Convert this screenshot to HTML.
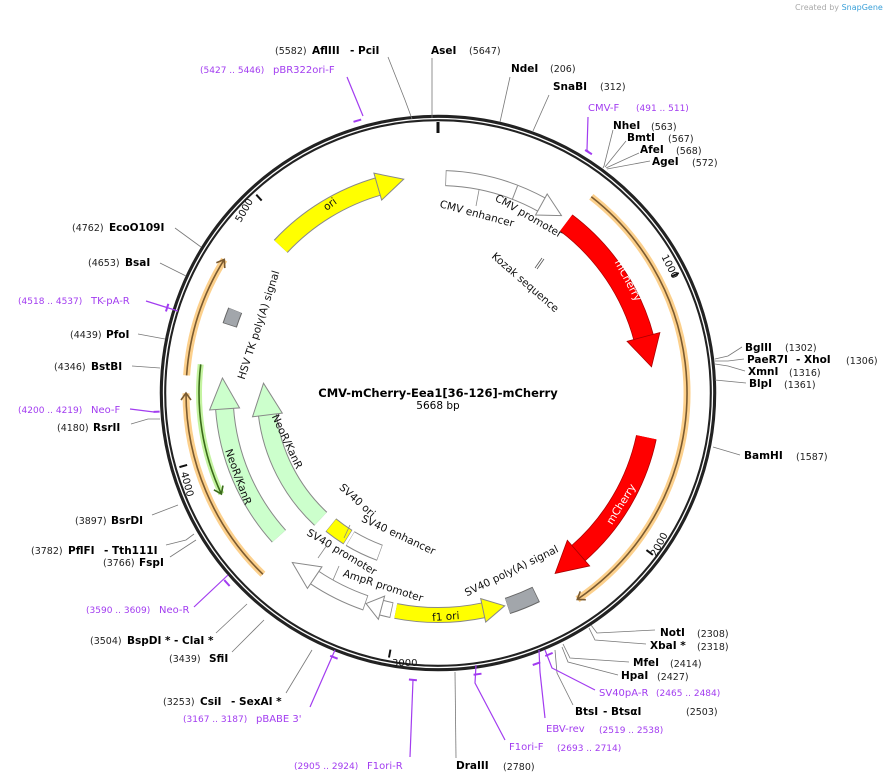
<!DOCTYPE html>
<html><head><meta charset="utf-8"><style>
html,body{margin:0;padding:0;background:#fff;}
svg{display:block;font-family:"DejaVu Sans","Liberation Sans",sans-serif;}
.e{font-weight:bold;font-size:10.5px;fill:#000;}
.n{font-size:9.5px;fill:#222;}
.p{font-size:10px;fill:#a23cf0;}
.pn{font-size:9px;fill:#a23cf0;}
.f{font-size:10.5px;fill:#111;}
.ln{stroke:#777;stroke-width:0.8;fill:none;}
.pl{stroke:#a23cf0;stroke-width:1.2;fill:none;}
</style></head><body>
<svg width="892" height="781" viewBox="0 0 892 781" xmlns="http://www.w3.org/2000/svg">
<text x="795" y="10" font-size="8" fill="#aaa">Created by <tspan fill="#3aa0d8">SnapGene</tspan></text>

<!-- ring -->
<circle cx="438" cy="393" r="275" fill="none" stroke="#222" stroke-width="6.5"/>
<circle cx="438" cy="393" r="274.5" fill="none" stroke="#fff" stroke-width="1.3"/>
<line x1="438" y1="122" x2="438" y2="133" stroke="#111" stroke-width="3"/>
<g stroke="#111" stroke-width="2">
<line x1="438" y1="124" x2="438" y2="132" transform="rotate(63.5 438 393)"/>
<line x1="438" y1="124" x2="438" y2="132" transform="rotate(127 438 393)"/>
<line x1="438" y1="124" x2="438" y2="132" transform="rotate(190.5 438 393)"/>
<line x1="438" y1="124" x2="438" y2="132" transform="rotate(254 438 393)"/>
<line x1="438" y1="124" x2="438" y2="132" transform="rotate(317.5 438 393)"/>
</g>
<g font-size="10" fill="#111">
<text transform="translate(667,268) rotate(63)" text-anchor="middle">1000</text>
<text transform="translate(662,546) rotate(-62)" text-anchor="middle">2000</text>
<text x="392" y="666">3000</text>
<text transform="translate(184,485) rotate(75)" text-anchor="middle">4000</text>
<text transform="translate(247,212) rotate(-60)" text-anchor="middle">5000</text>
</g>

<!-- orange ORF lines -->
<g fill="none">
<circle cx="438" cy="393" r="249" stroke="#fcd08c" stroke-width="7" stroke-dasharray="469 3000" transform="rotate(-52 438 393)"/>
<circle cx="438" cy="393" r="249" stroke="#7a5a30" stroke-width="1.6" stroke-dasharray="469 3000" transform="rotate(-52 438 393)"/>
<circle cx="438" cy="393" r="252" stroke="#fcd08c" stroke-width="7" stroke-dasharray="202 3000" transform="rotate(134 438 393)"/>
<circle cx="438" cy="393" r="252" stroke="#7a5a30" stroke-width="1.6" stroke-dasharray="202 3000" transform="rotate(134 438 393)"/>
<circle cx="438" cy="393" r="252" stroke="#fcd08c" stroke-width="7" stroke-dasharray="123 3000" transform="rotate(184 438 393)"/>
<circle cx="438" cy="393" r="252" stroke="#7a5a30" stroke-width="1.6" stroke-dasharray="123 3000" transform="rotate(184 438 393)"/>
<circle cx="438" cy="393" r="239" stroke="#c4f3a0" stroke-width="6" stroke-dasharray="133 3000" transform="rotate(155 438 393)"/>
<circle cx="438" cy="393" r="239" stroke="#3a6a1a" stroke-width="1.6" stroke-dasharray="133 3000" transform="rotate(155 438 393)"/>
<g stroke="#7a5a30" stroke-width="1.6">
<polyline points="431,139 438,144 431,149" transform="rotate(146 438 393)"/>
<polyline points="431,136 438,141 431,146" transform="rotate(270 438 393)"/>
<polyline points="431,136 438,141 431,146" transform="rotate(302 438 393)"/>
</g>
<polyline points="445,149 438,154 445,159" stroke="#3a6a1a" stroke-width="1.6" transform="rotate(245 438 393)"/>
</g>

<!-- ori -->
<circle cx="438" cy="393" r="215" fill="none" stroke="#888" stroke-width="19" stroke-dasharray="117 3000" transform="rotate(223 438 393)"/>
<circle cx="438" cy="393" r="215" fill="none" stroke="#ffff00" stroke-width="17" stroke-dasharray="117 3000" transform="rotate(223 438 393)"/>
<polygon points="437,164 464,178 437,192" fill="#ffff00" stroke="#888" stroke-width="1" transform="rotate(344 438 393)"/>
<text class="f" transform="translate(332,207) rotate(-36)" text-anchor="middle">ori</text>

<!-- CMV -->
<circle cx="438" cy="393" r="215" fill="none" stroke="#888" stroke-width="16" stroke-dasharray="101 3000" transform="rotate(-88 438 393)"/>
<circle cx="438" cy="393" r="215" fill="none" stroke="#fff" stroke-width="14" stroke-dasharray="100 3000" transform="rotate(-87.8 438 393)"/>
<polygon points="437,166 460,178 437,190" fill="#fff" stroke="#888" stroke-width="1" transform="rotate(29 438 393)"/>
<line x1="438" y1="171" x2="438" y2="186" stroke="#888" transform="rotate(21 438 393)"/>
<line x1="479" y1="190" x2="476" y2="206" stroke="#888" stroke-width="0.8"/>
<text class="f" transform="translate(476,217) rotate(15)" text-anchor="middle">CMV enhancer</text>
<text class="f" transform="translate(527,219) rotate(30)" text-anchor="middle">CMV promoter</text>
<line x1="535" y1="268" x2="542" y2="258" stroke="#555" stroke-width="0.8"/>
<line x1="537" y1="269" x2="544" y2="259" stroke="#555" stroke-width="0.8"/>
<text class="f" transform="translate(523,285) rotate(41)" text-anchor="middle">Kozak sequence</text>

<!-- mCherry 1 -->
<circle cx="438" cy="393" r="213" fill="none" stroke="#a00" stroke-width="21" stroke-dasharray="141.3 3000" transform="rotate(-53 438 393)"/>
<circle cx="438" cy="393" r="213" fill="none" stroke="#ff0000" stroke-width="19.5" stroke-dasharray="141.3 3000" transform="rotate(-53 438 393)"/>
<polygon points="437,163 468,180 437,197" fill="#ff0000" stroke="#a00" stroke-width="0.8" transform="rotate(75 438 393)"/>
<text transform="translate(625,282) rotate(62)" text-anchor="middle" font-size="10.5" fill="#fff">mCherry</text>
<!-- mCherry 2 -->
<circle cx="438" cy="393" r="213" fill="none" stroke="#a00" stroke-width="21" stroke-dasharray="137.6 3000" transform="rotate(12 438 393)"/>
<circle cx="438" cy="393" r="213" fill="none" stroke="#ff0000" stroke-width="19.5" stroke-dasharray="137.6 3000" transform="rotate(12 438 393)"/>
<polygon points="437,163 468,180 437,197" fill="#ff0000" stroke="#a00" stroke-width="0.8" transform="rotate(139 438 393)"/>
<text transform="translate(624,506) rotate(-58)" text-anchor="middle" font-size="10.5" fill="#fff">mCherry</text>

<!-- NeoR outer -->
<circle cx="438" cy="393" r="214" fill="none" stroke="#888" stroke-width="19" stroke-dasharray="142 3000" transform="rotate(138 438 393)"/>
<circle cx="438" cy="393" r="214" fill="none" stroke="#ccffcc" stroke-width="17" stroke-dasharray="142 3000" transform="rotate(138 438 393)"/>
<polygon points="437,164 468,179 437,194" fill="#ccffcc" stroke="#888" stroke-width="1" transform="rotate(266 438 393)"/>
<text class="f" transform="translate(235,478) rotate(70)" text-anchor="middle">NeoR/KanR</text>
<!-- NeoR inner -->
<circle cx="438" cy="393" r="172" fill="none" stroke="#888" stroke-width="19" stroke-dasharray="120 3000" transform="rotate(133 438 393)"/>
<circle cx="438" cy="393" r="172" fill="none" stroke="#ccffcc" stroke-width="17" stroke-dasharray="120 3000" transform="rotate(133 438 393)"/>
<polygon points="437,206 469,221 437,236" fill="#ccffcc" stroke="#888" stroke-width="1" transform="rotate(263 438 393)"/>
<text class="f" transform="translate(284,443) rotate(65)" text-anchor="middle">NeoR/KanR</text>

<!-- SV40 ori / enhancer -->
<circle cx="438" cy="393" r="170" fill="none" stroke="#888" stroke-width="17" stroke-dasharray="21 3000" transform="rotate(122 438 393)"/>
<circle cx="438" cy="393" r="170" fill="none" stroke="#ffff00" stroke-width="15" stroke-dasharray="20 3000" transform="rotate(122.2 438 393)"/>
<circle cx="438" cy="393" r="170" fill="none" stroke="#888" stroke-width="17" stroke-dasharray="33 3000" transform="rotate(110 438 393)"/>
<circle cx="438" cy="393" r="170" fill="none" stroke="#fff" stroke-width="15" stroke-dasharray="32 3000" transform="rotate(110.2 438 393)"/>
<text class="f" transform="translate(355,503) rotate(42)" text-anchor="middle">SV40 ori</text>
<text class="f" transform="translate(397,538) rotate(25)" text-anchor="middle">SV40 enhancer</text>

<!-- SV40 promoter (clockwise head) -->
<circle cx="438" cy="393" r="222" fill="none" stroke="#888" stroke-width="16" stroke-dasharray="58 3000" transform="rotate(109 438 393)"/>
<circle cx="438" cy="393" r="222" fill="none" stroke="#fff" stroke-width="14" stroke-dasharray="57 3000" transform="rotate(109.2 438 393)"/>
<polygon points="437,158 464,171 437,184" fill="#fff" stroke="#888" stroke-width="1" transform="rotate(214 438 393)"/>
<!-- AmpR promoter (clockwise head) -->
<circle cx="438" cy="393" r="222" fill="none" stroke="#888" stroke-width="16" stroke-dasharray="12 3000" transform="rotate(102 438 393)"/>
<circle cx="438" cy="393" r="222" fill="none" stroke="#fff" stroke-width="14" stroke-dasharray="11 3000" transform="rotate(102.2 438 393)"/>
<polygon points="437,159 453,171 437,183" fill="#fff" stroke="#888" stroke-width="1" transform="rotate(195 438 393)"/>
<text class="f" transform="translate(340,555) rotate(31)" text-anchor="middle">SV40 promoter</text>
<text class="f" transform="translate(382,589) rotate(18)" text-anchor="middle">AmpR promoter</text>
<line x1="318" y1="558" x2="327" y2="545" stroke="#888" stroke-width="0.8"/>
<line x1="339" y1="566" x2="333" y2="580" stroke="#888" stroke-width="0.8"/>
<line x1="350" y1="525" x2="344" y2="538" stroke="#888" stroke-width="0.8"/>

<!-- f1 ori -->
<circle cx="438" cy="393" r="222" fill="none" stroke="#888" stroke-width="16" stroke-dasharray="89 3000" transform="rotate(78 438 393)"/>
<circle cx="438" cy="393" r="222" fill="none" stroke="#ffff00" stroke-width="14" stroke-dasharray="89 3000" transform="rotate(78 438 393)"/>
<polygon points="439,159 417,171 439,183" fill="#ffff00" stroke="#888" stroke-width="1" transform="rotate(168 438 393)"/>
<text class="f" transform="translate(446,620) rotate(-4)" text-anchor="middle">f1 ori</text>

<!-- SV40 polyA -->
<circle cx="438" cy="393" r="224" fill="none" stroke="#666" stroke-width="17" stroke-dasharray="31 3000" transform="rotate(64 438 393)"/>
<circle cx="438" cy="393" r="224" fill="none" stroke="#a2a6ab" stroke-width="15" stroke-dasharray="30 3000" transform="rotate(64.2 438 393)"/>
<text class="f" transform="translate(513,574) rotate(-26)" text-anchor="middle">SV40 poly(A) signal</text>
<!-- HSV TK box -->
<circle cx="438" cy="393" r="219" fill="none" stroke="#666" stroke-width="15" stroke-dasharray="16 3000" transform="rotate(198 438 393)"/>
<circle cx="438" cy="393" r="219" fill="none" stroke="#a2a6ab" stroke-width="13" stroke-dasharray="15 3000" transform="rotate(198.2 438 393)"/>
<text class="f" transform="translate(262,326) rotate(-72)" text-anchor="middle">HSV TK poly(A) signal</text>

<!-- title -->
<text x="438" y="397" text-anchor="middle" font-weight="bold" font-size="11.5">CMV-mCherry-Eea1[36-126]-mCherry</text>
<text x="438" y="409" text-anchor="middle" font-size="10.5">5668 bp</text>

<!-- primer brackets -->
<g stroke="#a23cf0" stroke-width="2" fill="none">
<polyline points="434,109 442,109" transform="rotate(343.5 438 393)"/>
<polyline points="434,109 442,109" transform="rotate(32 438 393)"/>
<polyline points="434,109 442,109" transform="rotate(287.5 438 393)"/>
<polyline points="434,108 434,114" transform="rotate(267 438 393)"/>
<polyline points="434,109 442,109" transform="rotate(228 438 393)"/>
<polyline points="434,109 442,109" transform="rotate(201.5 438 393)"/>
<polyline points="434,105 442,105" transform="rotate(185 438 393)"/>
<polyline points="434,109 442,109" transform="rotate(172 438 393)"/>
<polyline points="434,105 442,105" transform="rotate(160 438 393)"/>
<polyline points="434,109 442,109" transform="rotate(157 438 393)"/>
</g>

<!-- leader lines -->
<polyline class="ln" points="388,57 405,100 412,119"/>
<polyline class="ln" points="432,58 432,118"/>
<polyline class="ln" points="510,77 500,122"/>
<polyline class="ln" points="549,95 533,131"/>
<polyline class="ln" points="613,130 604,166 603,168"/>
<polyline class="ln" points="626,141 605,167"/>
<polyline class="ln" points="639,153 606,168"/>
<polyline class="ln" points="650,161 607,169"/>
<polyline class="ln" points="742,347 728,356 715,359"/>
<polyline class="ln" points="744,359 728,361 715,361"/>
<polyline class="ln" points="745,371 728,366 715,364"/>
<polyline class="ln" points="746,383 715,380"/>
<polyline class="ln" points="740,455 713,447"/>
<polyline class="ln" points="655,630 597,633 591,625"/>
<polyline class="ln" points="646,644 595,640 589,628"/>
<polyline class="ln" points="629,662 570,658 563,644"/>
<polyline class="ln" points="618,675 568,662 562,647"/>
<polyline class="ln" points="573,705 557,673 555,650"/>
<polyline class="ln" points="456,758 455,672"/>
<polyline class="ln" points="286,693 312,650"/>
<polyline class="ln" points="232,652 264,620"/>
<polyline class="ln" points="216,633 247,604"/>
<polyline class="ln" points="166,545 186,540 194,534"/>
<polyline class="ln" points="170,557 196,540"/>
<polyline class="ln" points="152,515 178,505"/>
<polyline class="ln" points="131,424 148,419 160,419"/>
<polyline class="ln" points="132,366 160,368"/>
<polyline class="ln" points="138,334 165,339"/>
<polyline class="ln" points="160,263 186,276"/>
<polyline class="ln" points="175,228 201,247"/>
<polyline class="pl" points="347,77 363,116"/>
<polyline class="pl" points="588,117 587,150 590,153"/>
<polyline class="pl" points="146,301 178,311"/>
<polyline class="pl" points="130,409 154,412"/>
<polyline class="pl" points="194,607 228,575"/>
<polyline class="pl" points="310,707 335,650"/>
<polyline class="pl" points="410,757 413,680"/>
<polyline class="pl" points="505,740 475,683 476,665"/>
<polyline class="pl" points="545,718 540,672 539,650"/>
<polyline class="pl" points="595,690 552,668 545,650"/>

<!-- enzyme labels -->
<text class="n" x="275" y="54">(5582)</text><text class="e" x="312" y="54">AflIII</text><text class="e" x="350" y="54">- PciI</text>
<text class="e" x="431" y="54">AseI</text><text class="n" x="469" y="54">(5647)</text>
<text class="e" x="511" y="72">NdeI</text><text class="n" x="550" y="72">(206)</text>
<text class="e" x="553" y="90">SnaBI</text><text class="n" x="600" y="90">(312)</text>
<text class="p" x="588" y="111">CMV-F</text><text class="pn" x="636" y="111">(491 .. 511)</text>
<text class="e" x="613" y="129">NheI</text><text class="n" x="651" y="130">(563)</text>
<text class="e" x="627" y="141">BmtI</text><text class="n" x="668" y="142">(567)</text>
<text class="e" x="640" y="153">AfeI</text><text class="n" x="676" y="154">(568)</text>
<text class="e" x="652" y="165">AgeI</text><text class="n" x="692" y="166">(572)</text>
<text class="e" x="745" y="351">BglII</text><text class="n" x="785" y="351">(1302)</text>
<text class="e" x="747" y="363">PaeR7I</text><text class="e" x="796" y="363">- XhoI</text><text class="n" x="846" y="364">(1306)</text>
<text class="e" x="748" y="375">XmnI</text><text class="n" x="789" y="376">(1316)</text>
<text class="e" x="749" y="387">BlpI</text><text class="n" x="784" y="388">(1361)</text>
<text class="e" x="744" y="459">BamHI</text><text class="n" x="796" y="460">(1587)</text>
<text class="e" x="660" y="636">NotI</text><text class="n" x="697" y="637">(2308)</text>
<text class="e" x="650" y="649">XbaI *</text><text class="n" x="697" y="650">(2318)</text>
<text class="e" x="633" y="666">MfeI</text><text class="n" x="670" y="667">(2414)</text>
<text class="e" x="621" y="679">HpaI</text><text class="n" x="657" y="680">(2427)</text>
<text class="p" x="599" y="696">SV40pA-R</text><text class="pn" x="656" y="696">(2465 .. 2484)</text>
<text class="e" x="575" y="715">BtsI</text><text class="e" x="603" y="715">- BtsαI</text><text class="n" x="686" y="715">(2503)</text>
<text class="p" x="546" y="732">EBV-rev</text><text class="pn" x="599" y="733">(2519 .. 2538)</text>
<text class="p" x="509" y="750">F1ori-F</text><text class="pn" x="557" y="751">(2693 .. 2714)</text>
<text class="e" x="456" y="769">DraIII</text><text class="n" x="503" y="770">(2780)</text>
<text class="pn" x="294" y="769">(2905 .. 2924)</text><text class="p" x="367" y="769">F1ori-R</text>
<text class="pn" x="183" y="722">(3167 .. 3187)</text><text class="p" x="256" y="722">pBABE 3'</text>
<text class="n" x="163" y="705">(3253)</text><text class="e" x="200" y="705">CsiI</text><text class="e" x="231" y="705">- SexAI *</text>
<text class="n" x="169" y="662">(3439)</text><text class="e" x="209" y="662">SfiI</text>
<text class="n" x="90" y="644">(3504)</text><text class="e" x="127" y="644">BspDI *</text><text class="e" x="174" y="644">- ClaI *</text>
<text class="pn" x="86" y="613">(3590 .. 3609)</text><text class="p" x="159" y="613">Neo-R</text>
<text class="n" x="31" y="554">(3782)</text><text class="e" x="68" y="554">PflFI</text><text class="e" x="104" y="554">- Tth111I</text>
<text class="n" x="103" y="566">(3766)</text><text class="e" x="139" y="566">FspI</text>
<text class="n" x="75" y="524">(3897)</text><text class="e" x="111" y="524">BsrDI</text>
<text class="n" x="57" y="431">(4180)</text><text class="e" x="93" y="431">RsrII</text>
<text class="pn" x="18" y="413">(4200 .. 4219)</text><text class="p" x="91" y="413">Neo-F</text>
<text class="n" x="54" y="370">(4346)</text><text class="e" x="91" y="370">BstBI</text>
<text class="n" x="70" y="338">(4439)</text><text class="e" x="106" y="338">PfoI</text>
<text class="pn" x="18" y="304">(4518 .. 4537)</text><text class="p" x="91" y="304">TK-pA-R</text>
<text class="n" x="88" y="266">(4653)</text><text class="e" x="125" y="266">BsaI</text>
<text class="n" x="72" y="231">(4762)</text><text class="e" x="109" y="231">EcoO109I</text>
<text class="pn" x="200" y="73">(5427 .. 5446)</text><text class="p" x="273" y="73">pBR322ori-F</text>
</svg>
</body></html>
